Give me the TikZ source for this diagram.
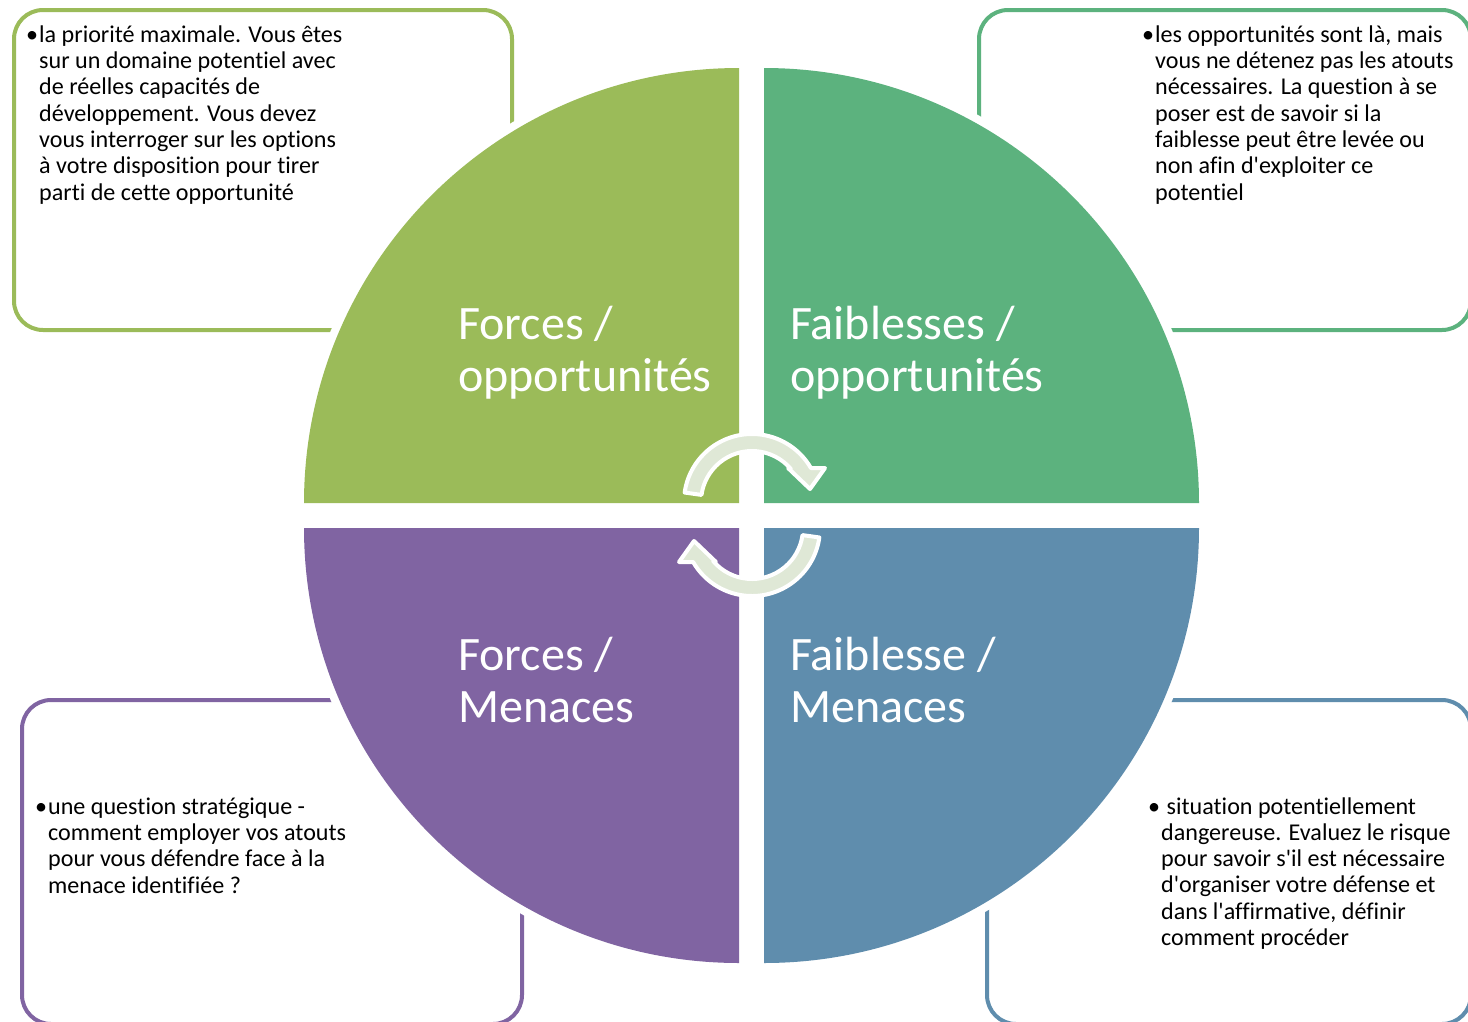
\documentclass[tikz,border=0pt]{standalone}
\usepackage{fontspec}
\setmainfont{Carlito}[Ligatures={TeXOff,NoCommon}]
\usepackage{tikz}
\usetikzlibrary{positioning}

\definecolor{fogreen}{HTML}{9BBB59}
\definecolor{fagreen}{HTML}{5CB27E}
\definecolor{fmpurple}{HTML}{8064A2}
\definecolor{fmblue}{HTML}{5F8DAD}
\definecolor{cyclefill}{HTML}{DFE8D6}

\begin{document}
\begin{tikzpicture}[
    x=1pt, y=1pt,
    infobox/.style={
		rectangle,
		rounded corners=29pt,
		line width=4pt,
		inner sep=0pt,
		outer sep=0pt,
		fill=white
	},
	infotext/.style={
		anchor=base west,
		align=left,
		inner sep=0pt,
		font=\fontsize{24.1}{26.3}\selectfont
	},
	quad/.style={
		preaction={draw=white, line width=16pt}
	},
	quadlabel/.style={
		anchor=base west,
		align=left,
		inner sep=0pt,
		text=white,
		font=\fontsize{48}{52}\selectfont
	},
	cyclearrow/.style={
		fill=cyclefill,
		draw=white,
		line width=4pt,
		line join=round
	}
  ]
  \useasboundingbox (0,0) rectangle (1468,-1021);

    % We start by placing the boxes behind the circle
  \node [infobox, draw=fogreen, minimum width=498, minimum height=320] (boxFO) at (263,-170) {};
  \node [infobox, draw=fagreen, minimum width=492, minimum height=320] (boxFaO) at (1225,-170) {};
  \node [infobox, draw=fmpurple, minimum width=500, minimum height=324] (boxFM) at (272,-862) {};
  \node [infobox, draw=fmblue, minimum width=484, minimum height=324] (boxFaM) at (1229,-862) {};

    % texts (the base anchor sits on the last line)
  \node [infotext] (textFO) at (39,-200)
 {\llap{\textbullet\hspace{1pt}}la priorité maximale. Vous êtes\\
  sur un domaine potentiel avec\\
  de réelles capacités de\\
  développement. Vous devez\\
  vous interroger sur les options\\
  à votre disposition pour tirer\\
  parti de cette opportunité};

  \node [infotext] (textFaO) at (1155,-200)
 {\llap{\textbullet\hspace{1pt}}les opportunités sont là, mais\\
  vous ne détenez pas les atouts\\
  nécessaires. La question à se\\
  poser est de savoir si la\\
  faiblesse peut être levée ou\\
  non afin d'exploiter ce\\
  potentiel};

  \node [infotext] (textFM) at (48,-893)
 {\llap{\textbullet\hspace{1pt}}une question stratégique -\\
  comment employer vos atouts\\
  pour vous défendre face à la\\
  menace identifiée ?};

  \node [infotext] (textFaM) at (1161,-945.5)
 {\llap{\textbullet\hspace{1pt}}\ situation potentiellement\\
  dangereuse. Evaluez le risque\\
  pour savoir s'il est nécessaire\\
  d'organiser votre défense et\\
  dans l'affirmative, définir\\
  comment procéder};

    % the four quarters of the circle
  \fill [quad, fill=fogreen] (739,-503) -- (304,-503) arc[start angle=180, end angle=90, radius=435] -- cycle;
  \fill [quad, fill=fagreen] (764,-503) -- (764,-68) arc[start angle=90, end angle=0, radius=435] -- cycle;
  \fill [quad, fill=fmpurple] (739,-528) -- (739,-963) arc[start angle=270, end angle=180, radius=435] -- cycle;
  \fill [quad, fill=fmblue] (764,-528) -- (1199,-528) arc[start angle=0, end angle=-90, radius=435] -- cycle;

  \node [quadlabel] (labelFO) at (458,-391) {Forces /\\opportunités};
  \node [quadlabel] (labelFaO) at (790,-391) {Faiblesses /\\opportunités};
  \node [quadlabel] (labelFM) at (458,-722) {Forces /\\Menaces};
  \node [quadlabel] (labelFaM) at (790,-722) {Faiblesse /\\Menaces};

    % the two arrows in the middle
  \begin{scope}[shift={(752,-502)}]
    \draw [cyclearrow] (172:68) arc[start angle=172, end angle=30, radius=68]
      -- (73,34) -- (58,13) -- (36,34) -- (40:51)
      arc[start angle=40, end angle=172, radius=51] -- cycle;
  \end{scope}
  \begin{scope}[shift={(752,-528)}, rotate=180]
    \draw [cyclearrow] (172:68) arc[start angle=172, end angle=30, radius=68]
      -- (73,34) -- (58,13) -- (36,34) -- (40:51)
      arc[start angle=40, end angle=172, radius=51] -- cycle;
  \end{scope}

\end{tikzpicture}
\end{document}
